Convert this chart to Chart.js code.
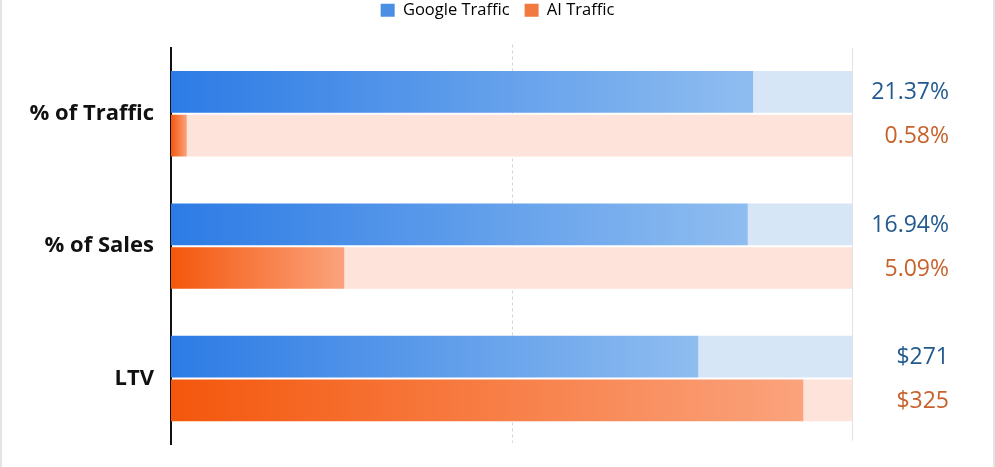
<!DOCTYPE html>
<html>
<head>
<meta charset="utf-8">
<script src="https://cdn.jsdelivr.net/npm/chart.js@4.4.1/dist/chart.umd.min.js"></script>
<style>
  html, body { margin: 0; padding: 0; background: #ffffff; }
  #wrap { width: 995px; height: 467px; position: relative; }
</style>
</head>
<body>
<div id="wrap"><canvas id="myChart" width="995" height="467"></canvas></div>
<script>
// chart data
var categories = ['% of Traffic', '% of Sales', 'LTV'];
var googleValues = [21.37, 16.94, 271];
var aiValues = [0.58, 5.09, 325];
var googleLabels = ['21.37%', '16.94%', '$271'];
var aiLabels = ['0.58%', '5.09%', '$325'];
// each row is drawn against its own full-track maximum
var categoryMax = [25, 20, 350];
var seriesNames = ['Google Traffic', 'AI Traffic'];

var googleColors = { start: '#2c7be5', end: '#8fbdf0', track: '#d7e6f7', text: '#235a8e', legend: '#4a8fe3' };
var aiColors = { start: '#f4570c', end: '#fba37d', track: '#fde3d9', text: '#c8622b', legend: '#f27a40' };

var googlePct = googleValues.map(function (v, i) { return v / categoryMax[i] * 100; });
var aiPct = aiValues.map(function (v, i) { return v / categoryMax[i] * 100; });
var googleRest = googlePct.map(function (p) { return 100 - p; });
var aiRest = aiPct.map(function (p) { return 100 - p; });

function barGradient(colors) {
    return function (context) {
        var chart = context.chart;
        if (!chart.chartArea || !chart.scales.x) { return colors.start; }
        var x = chart.scales.x;
        var val = context.raw || 0;
        var x0 = x.getPixelForValue(0);
        var x1 = x.getPixelForValue(val);
        if (x1 - x0 < 1) { return colors.start; }
        var g = chart.ctx.createLinearGradient(x0, 0, x1, 0);
        g.addColorStop(0, colors.start);
        g.addColorStop(1, colors.end);
        return g;
    };
}

// grid lines at 50 and 100, page border
var decorPlugin = {
    id: 'decor',
    beforeDatasetsDraw: function (chart) {
        var ctx = chart.ctx;
        var x = chart.scales.x;
        var area = chart.chartArea;
        ctx.save();
        ctx.strokeStyle = '#d4d4d4';
        ctx.lineWidth = 1;
        ctx.setLineDash([3, 3]);
        var xm = Math.round(x.getPixelForValue(50)) + 0.5;
        ctx.beginPath();
        ctx.moveTo(xm, area.top - 3);
        ctx.lineTo(xm, area.bottom - 2);
        ctx.stroke();
        ctx.setLineDash([]);
        var xr = Math.round(x.getPixelForValue(100)) + 0.5;
        ctx.strokeStyle = '#e2e2e2';
        ctx.beginPath();
        ctx.moveTo(xr, area.top);
        ctx.lineTo(xr, area.bottom - 4);
        ctx.stroke();
        ctx.restore();
    },
    afterDraw: function (chart) {
        var ctx = chart.ctx;
        ctx.save();
        ctx.fillStyle = '#e3e3e3';
        ctx.fillRect(0, 0, 2, chart.height);
        ctx.fillRect(chart.width - 2, 0, 2, chart.height);
        ctx.restore();
    }
};

// value labels to the right of the tracks
var valueLabelPlugin = {
    id: 'valueLabels',
    afterDatasetsDraw: function (chart) {
        var ctx = chart.ctx;
        var tx = chart.chartArea.right + 97;
        ctx.save();
        ctx.font = '400 23px "Open Sans"';
        ctx.textAlign = 'right';
        ctx.textBaseline = 'middle';
        var gMeta = chart.getDatasetMeta(0);
        var aMeta = chart.getDatasetMeta(2);
        gMeta.data.forEach(function (bar, i) {
            ctx.fillStyle = googleColors.text;
            ctx.fillText(googleLabels[i], tx, bar.y + 1);
        });
        aMeta.data.forEach(function (bar, i) {
            ctx.fillStyle = aiColors.text;
            ctx.fillText(aiLabels[i], tx, bar.y + 1);
        });
        ctx.restore();
    }
};

// push chart area down below the legend
var legendSpacer = {
    id: 'legendSpacer',
    beforeInit: function (chart) {
        var fit = chart.legend.fit;
        chart.legend.fit = function () {
            fit.bind(chart.legend)();
            this.height += 19;
        };
    }
};

var ctx = document.getElementById('myChart').getContext('2d');

var chart = new Chart(ctx, {
    type: 'bar',
    data: {
        labels: categories,
        datasets: [{
            label: seriesNames[0],
            data: googlePct,
            stack: 'google',
            backgroundColor: barGradient(googleColors)
        }, {
            label: seriesNames[0] + ' track',
            data: googleRest,
            stack: 'google',
            backgroundColor: googleColors.track
        }, {
            label: seriesNames[1],
            data: aiPct,
            stack: 'ai',
            backgroundColor: barGradient(aiColors)
        }, {
            label: seriesNames[1] + ' track',
            data: aiRest,
            stack: 'ai',
            backgroundColor: aiColors.track
        }]
    },
    options: {
        indexAxis: 'y',
        responsive: false,
        animation: false,
        maintainAspectRatio: false,
        categoryPercentage: 0.66,
        barPercentage: 0.955,
        borderWidth: 0,
        layout: {
            padding: { top: -13, right: 0, bottom: 11, left: 0 }
        },
        plugins: {
            legend: {
                position: 'top',
                labels: {
                    boxWidth: 14,
                    boxHeight: 13,
                    padding: 15,
                    color: '#444444',
                    font: { family: '"Open Sans"', size: 16.5 },
                    generateLabels: function () {
                        return [
                            { text: seriesNames[0], fillStyle: googleColors.legend, strokeStyle: googleColors.legend, lineWidth: 0, datasetIndex: 0 },
                            { text: seriesNames[1], fillStyle: aiColors.legend, strokeStyle: aiColors.legend, lineWidth: 0, datasetIndex: 2 }
                        ];
                    }
                }
            },
            tooltip: { enabled: false },
            title: { display: false }
        },
        scales: {
            x: {
                display: false,
                stacked: true,
                min: 0,
                max: 100
            },
            y: {
                stacked: true,
                grid: { display: false },
                border: { display: true, color: '#111111', width: 2 },
                ticks: {
                    color: '#111111',
                    padding: 9,
                    font: { family: '"Open Sans"', size: 22, weight: '700' }
                },
                afterFit: function (scale) {
                    scale.width = 171;
                }
            },
            // empty right-hand column that holds the value labels
            labelColumn: {
                type: 'category',
                axis: 'y',
                position: 'right',
                labels: categories,
                grid: { display: false },
                border: { display: false },
                ticks: { display: false },
                afterFit: function (scale) {
                    scale.width = 143;
                }
            }
        }
    },
    plugins: [decorPlugin, valueLabelPlugin, legendSpacer]
});
</script>
</body>
</html>
